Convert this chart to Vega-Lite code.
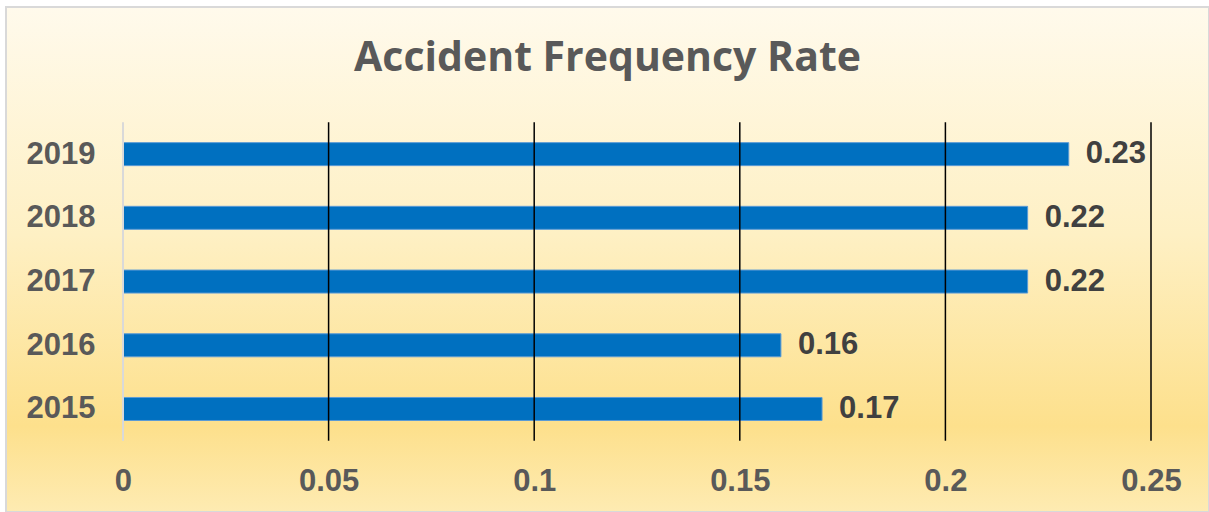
{
  "$schema": "https://vega.github.io/schema/vega-lite/v6.json",
  "width": 1203,
  "height": 505,
  "padding": {"left": 6, "top": 7, "right": 0, "bottom": 0},
  "autosize": {"type": "none"},
  "background": "white",
  "view": {
    "fill": {
      "gradient": "linear",
      "x1": 0, "y1": 0, "x2": 0, "y2": 1,
      "stops": [
        {"offset": 0, "color": "#FFFAEC"},
        {"offset": 0.45, "color": "#FEF0C4"},
        {"offset": 0.83, "color": "#FDE08C"},
        {"offset": 1, "color": "#FEEBB2"}
      ]
    },
    "stroke": "#D9D9D9",
    "strokeWidth": 2
  },
  "config": {
    "axisX": {
      "title": null, "orient": "bottom", "offset": -30.5, "domain": false, "ticks": false, "tickSize": 0,
      "grid": false, "labelPadding": 0, "labelBaseline": "middle",
      "labelFont": "Liberation Sans", "labelFontSize": 31, "labelFontWeight": "bold",
      "labelColor": "#595959", "labelOverlap": false, "labelFlush": false
    },
    "axisY": {
      "title": null, "orient": "left", "offset": -89, "domain": false, "ticks": false, "tickSize": 0,
      "grid": false, "labelPadding": 0, "labelAlign": "right", "labelBaseline": "middle",
      "labelFont": "Liberation Sans", "labelFontSize": 31, "labelFontWeight": "bold",
      "labelColor": "#595959", "labelOverlap": false, "labelFlush": false
    }
  },
  "title": {
    "text": "Accident Frequency Rate",
    "font": "Open Sans",
    "fontSize": 41,
    "fontWeight": "bold",
    "color": "#595959",
    "anchor": "middle",
    "baseline": "alphabetic",
    "offset": -70,
    "dy": 35
  },
  "datasets": {
    "rates": [
      {"year": 2015, "rate": 0.17},
      {"year": 2016, "rate": 0.16},
      {"year": 2017, "rate": 0.22},
      {"year": 2018, "rate": 0.22},
      {"year": 2019, "rate": 0.23}
    ],
    "grid": [
      {"v": 0.05}, {"v": 0.1}, {"v": 0.15}, {"v": 0.2}, {"v": 0.25}
    ],
    "zero": [{"v": 0}]
  },
  "layer": [
    {
      "data": {"name": "rates"},
      "mark": {"type": "bar", "orient": "horizontal", "size": 23, "color": "#0070C0", "stroke": "#5B9BD5", "strokeWidth": 1},
      "encoding": {
        "x": {
          "field": "rate", "type": "quantitative",
          "scale": {"domain": [-0.028453, 0.264105], "nice": false, "zero": false},
          "axis": {"title": null, "values": [0, 0.05, 0.1, 0.15, 0.2, 0.25], "format": "~g"}
        },
        "x2": {"datum": 0},
        "y": {
          "field": "year", "type": "quantitative",
          "scale": {"domain": [2013.4615, 2021.2308], "nice": false, "zero": false},
          "axis": {"title": null, "values": [2015, 2016, 2017, 2018, 2019], "format": "d"}
        }
      }
    },
    {
      "data": {"name": "grid"},
      "mark": {"type": "rule", "color": "#000000", "strokeWidth": 1.5},
      "encoding": {
        "x": {"field": "v", "type": "quantitative",
              "axis": {"title": null, "values": [0, 0.05, 0.1, 0.15, 0.2, 0.25], "format": "~g"}},
        "y": {"datum": 2014.5, "type": "quantitative",
              "axis": {"title": null, "values": [2015, 2016, 2017, 2018, 2019], "format": "d"}},
        "y2": {"datum": 2019.5}
      }
    },
    {
      "data": {"name": "zero"},
      "mark": {"type": "rule", "color": "#D9D9D9", "strokeWidth": 2},
      "encoding": {
        "x": {"field": "v", "type": "quantitative",
              "axis": {"title": null, "values": [0, 0.05, 0.1, 0.15, 0.2, 0.25], "format": "~g"}},
        "y": {"datum": 2014.5, "type": "quantitative",
              "axis": {"title": null, "values": [2015, 2016, 2017, 2018, 2019], "format": "d"}},
        "y2": {"datum": 2019.5}
      }
    },
    {
      "data": {"name": "rates"},
      "mark": {"type": "text", "align": "left", "baseline": "middle", "dx": 17,
               "font": "Liberation Sans", "fontSize": 31, "fontWeight": "bold", "color": "#404040"},
      "encoding": {
        "x": {"field": "rate", "type": "quantitative",
              "axis": {"title": null, "values": [0, 0.05, 0.1, 0.15, 0.2, 0.25], "format": "~g"}},
        "y": {"field": "year", "type": "quantitative",
              "axis": {"title": null, "values": [2015, 2016, 2017, 2018, 2019], "format": "d"}},
        "text": {"field": "rate", "type": "quantitative", "format": ".2f"}
      }
    }
  ]
}
